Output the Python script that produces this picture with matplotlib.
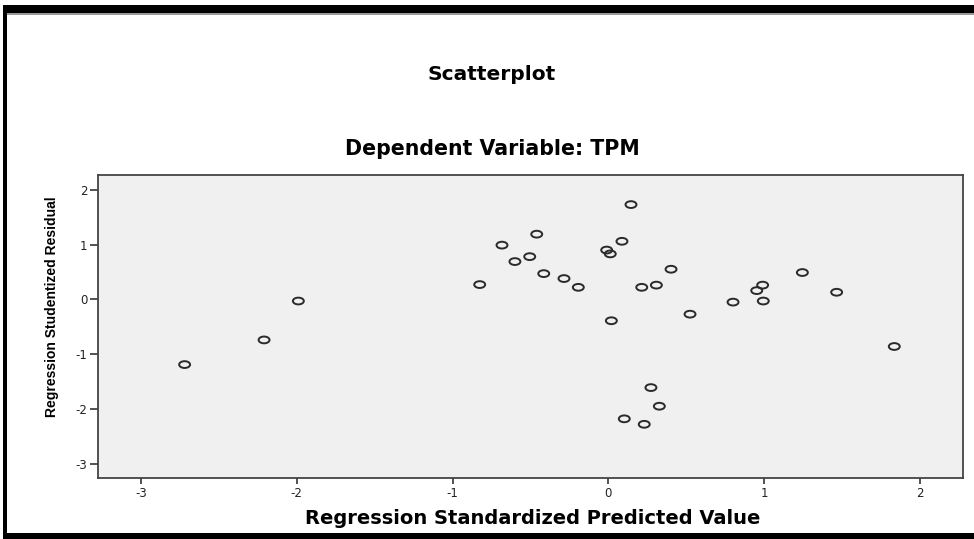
import matplotlib
matplotlib.use("Agg")
import matplotlib.pyplot as plt
from matplotlib.path import Path
from matplotlib.transforms import Affine2D
from matplotlib.patches import Rectangle

# Data
pred = [-2.72, -2.21, -1.99, -0.826, -0.683, -0.60, -0.505, -0.46, -0.415, -0.285,
        -0.193, -0.011, 0.012, 0.019, 0.087, 0.102, 0.145, 0.214, 0.23, 0.273,
        0.308, 0.327, 0.402, 0.524, 0.80, 0.952, 0.99, 0.994, 1.245, 1.465, 1.835]
resid = [-1.19, -0.74, -0.03, 0.27, 0.99, 0.69, 0.78, 1.19, 0.47, 0.38,
         0.22, 0.90, 0.83, -0.39, 1.06, -2.18, 1.73, 0.22, -2.28, -1.61,
         0.26, -1.95, 0.55, -0.27, -0.05, 0.16, 0.26, -0.03, 0.49, 0.13, -0.86]
xticks = [-3, -2, -1, 0, 1, 2]
yticks = [-3, -2, -1, 0, 1, 2]

title = "Scatterplot"
subtitle = "Dependent Variable: TPM"
xlabel = "Regression Standardized Predicted Value"
ylabel = "Regression Studentized Residual"

W, H = 974, 539
fig = plt.figure(figsize=(W / 100, H / 100), dpi=100)
fig.patch.set_facecolor("white")

def px(x0, y0, x1, y1):
    return [x0 / W, 1 - y1 / H, (x1 - x0) / W, (y1 - y0) / H]

ax = fig.add_axes(px(98, 175, 963, 478))
ax.set_facecolor("#f0f0f0")

ellipse = Path.unit_circle().transformed(Affine2D().scale(1.0, 0.62))
ax.scatter(pred, resid, marker=ellipse, s=62, facecolors="none",
           edgecolors="#2a2a2a", linewidths=1.4, zorder=3)

ax.set_xlim(-3.276, 2.276)
ax.set_ylim(-3.26, 2.27)
ax.set_xticks(xticks)
ax.set_yticks(yticks)
ax.set_xticklabels([str(v) for v in xticks])
ax.set_yticklabels([str(v) for v in yticks])
for s in ax.spines.values():
    s.set_color("#444444")
    s.set_linewidth(1.3)
ax.tick_params(axis="x", direction="out", length=4.5, width=1.3, color="#444444",
               labelsize=8.5, pad=2, labelcolor="#222222")
ax.tick_params(axis="y", direction="out", length=5.5, width=1.3, color="#444444",
               labelsize=8.5, pad=2, labelcolor="#222222")

fig.text(492 / W, 1 - 75 / H, title, ha="center", va="center",
         fontsize=14.5, fontweight="bold", family="DejaVu Sans")
fig.text(492 / W, 1 - 149 / H, subtitle, ha="center", va="center",
         fontsize=14.8, fontweight="bold", family="DejaVu Sans")
fig.text(533 / W, 1 - 519 / H, xlabel, ha="center", va="center",
         fontsize=14, fontweight="bold", family="DejaVu Sans")
fig.text(52 / W, 1 - 307 / H, ylabel, ha="center", va="center", rotation=90,
         fontsize=10, fontweight="bold", family="Liberation Sans")

# Outer black frame
def frame(x0, y0, x1, y1, c="black"):
    fig.patches.append(Rectangle((x0 / W, 1 - y1 / H), (x1 - x0) / W, (y1 - y0) / H,
                                 transform=fig.transFigure, facecolor=c,
                                 edgecolor="none", zorder=10))

frame(3, 5, W, 13)
frame(7, 13, W, 14.5, "#999999")
frame(3, 5, 7.5, 539)
frame(3, 533, W, 539)

fig.savefig("out.png", dpi=100)
